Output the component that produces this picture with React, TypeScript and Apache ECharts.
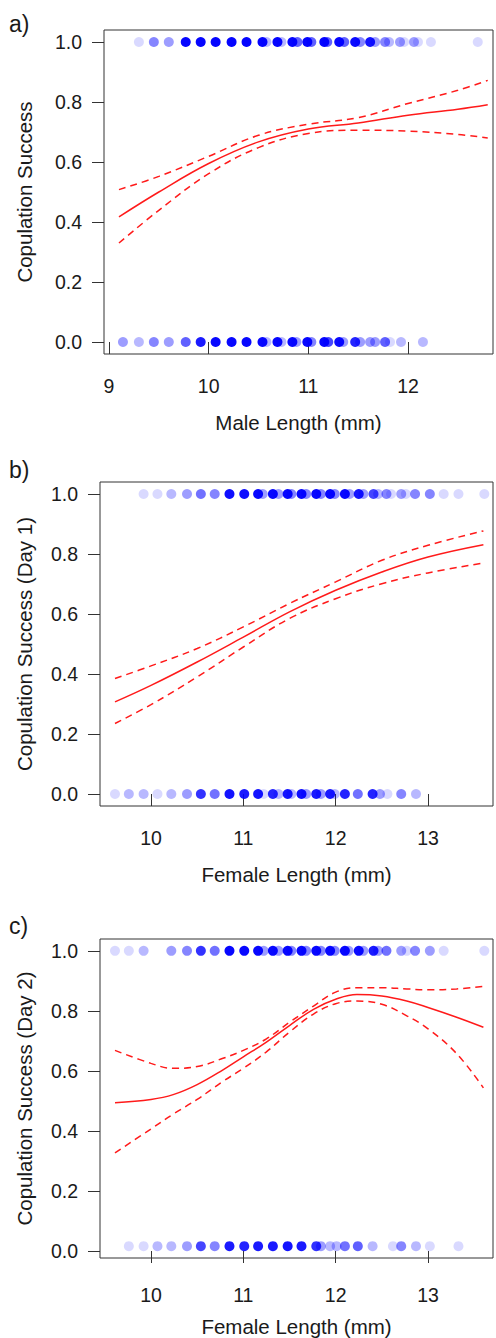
import React, { useEffect, useRef } from "react";
import * as echarts from "echarts";

const FONT = '"Liberation Sans", Arial, Helvetica, sans-serif';
const TEXT = "#1a1a1a";
const AXIS = "#333333";
const RED = "#ff1a1a";
const ALPHA = 0.15;

// ---- panel a: male length ----
const aCurveX = [9.1, 9.5, 10, 10.5, 11, 11.5, 12, 12.5, 12.8];
const aFit = [0.417, 0.5, 0.595, 0.667, 0.71, 0.73, 0.756, 0.776, 0.791];
const aUpper = [0.508, 0.552, 0.619, 0.689, 0.726, 0.748, 0.795, 0.839, 0.872];
const aLower = [0.33, 0.439, 0.561, 0.648, 0.695, 0.706, 0.703, 0.692, 0.68];
// [length, number of overlapping observations]
const aSuccess: [number, number][] = [
  [9.3, 1], [9.45, 4], [9.6, 3], [9.77, 24], [9.92, 24], [10.07, 26], [10.23, 26], [10.38, 26],
  [10.54, 26], [10.58, 2], [10.69, 26], [10.73, 2], [10.84, 24], [10.89, 6], [10.99, 24], [11.03, 6],
  [11.16, 24], [11.19, 6], [11.31, 24], [11.36, 6], [11.47, 20], [11.52, 4], [11.62, 16], [11.67, 3],
  [11.77, 4], [11.81, 2], [11.92, 3], [11.96, 1], [12.06, 3], [12.1, 1], [12.23, 1], [12.7, 1],
];
const aFail: [number, number][] = [
  [9.14, 3], [9.3, 2], [9.45, 4], [9.6, 3], [9.77, 6], [9.92, 14], [10.07, 22], [10.23, 22],
  [10.38, 22], [10.54, 22], [10.58, 2], [10.69, 22], [10.73, 2], [10.84, 22], [10.88, 3], [10.99, 22],
  [11.03, 4], [11.16, 22], [11.2, 8], [11.31, 20], [11.35, 3], [11.47, 12], [11.52, 3], [11.62, 3],
  [11.67, 3], [11.77, 6], [11.82, 1], [11.93, 2], [12.15, 2],
];

// ---- panel b: female length, day 1 ----
const bCurveX = [9.61, 10, 10.5, 11, 11.5, 12, 12.5, 13, 13.6];
const bFit = [0.307, 0.362, 0.44, 0.523, 0.607, 0.679, 0.74, 0.79, 0.831];
const bUpper = [0.385, 0.427, 0.485, 0.557, 0.635, 0.707, 0.779, 0.829, 0.877];
const bLower = [0.235, 0.298, 0.39, 0.49, 0.585, 0.651, 0.701, 0.737, 0.77];
const bSuccess: [number, number][] = [
  [9.92, 1], [10.07, 1], [10.22, 2], [10.39, 3], [10.54, 5], [10.69, 4], [10.85, 18], [11.01, 18],
  [11.16, 22], [11.21, 3], [11.32, 22], [11.38, 3], [11.48, 22], [11.52, 4], [11.63, 22], [11.68, 4],
  [11.79, 22], [11.84, 4], [11.94, 22], [11.99, 4], [12.1, 22], [12.15, 3], [12.25, 16], [12.3, 3],
  [12.41, 8], [12.46, 2], [12.55, 4], [12.6, 1], [12.71, 3], [12.76, 1], [12.86, 4], [13.02, 4],
  [13.17, 1], [13.33, 1], [13.61, 1],
];
const bFail: [number, number][] = [
  [9.61, 1], [9.76, 2], [9.92, 2], [10.07, 1], [10.22, 2], [10.39, 3], [10.54, 10], [10.69, 5],
  [10.85, 16], [11.01, 14], [11.16, 16], [11.22, 1], [11.32, 12], [11.38, 2], [11.48, 16], [11.52, 2],
  [11.63, 18], [11.68, 3], [11.79, 14], [11.84, 3], [11.94, 14], [11.99, 2], [12.1, 12], [12.24, 5],
  [12.4, 12], [12.48, 3], [12.56, 1], [12.71, 4], [12.87, 2],
];

// ---- panel c: female length, day 2 ----
const cCurveX = [9.61, 10, 10.24, 10.5, 10.78, 11, 11.25, 11.5, 11.76, 12, 12.23, 12.5, 12.77, 13, 13.31, 13.6];
const cFit = [0.486, 0.497, 0.513, 0.547, 0.597, 0.641, 0.691, 0.747, 0.802, 0.836, 0.852, 0.847, 0.83, 0.808, 0.775, 0.741];
const cUpper = [0.663, 0.619, 0.602, 0.608, 0.636, 0.663, 0.702, 0.758, 0.813, 0.86, 0.875, 0.875, 0.871, 0.868, 0.871, 0.88];
const cLower = [0.316, 0.397, 0.447, 0.497, 0.558, 0.602, 0.658, 0.725, 0.786, 0.821, 0.83, 0.819, 0.78, 0.736, 0.652, 0.536];
const cSuccess: [number, number][] = [
  [9.61, 1], [9.76, 1], [9.92, 2], [10.22, 3], [10.39, 4], [10.54, 10], [10.69, 5], [10.85, 22],
  [11.01, 22], [11.16, 22], [11.22, 3], [11.32, 22], [11.38, 3], [11.48, 22], [11.52, 4], [11.63, 22],
  [11.68, 4], [11.79, 22], [11.84, 4], [11.94, 22], [11.99, 4], [12.1, 22], [12.14, 3], [12.25, 20],
  [12.3, 3], [12.41, 14], [12.46, 3], [12.55, 5], [12.71, 3], [12.77, 1], [12.86, 4], [13.02, 3],
  [13.17, 1], [13.61, 1],
];
const cFail: [number, number][] = [
  [9.76, 1], [9.92, 1], [10.07, 2], [10.22, 2], [10.39, 3], [10.54, 8], [10.69, 4], [10.85, 14],
  [11.01, 12], [11.16, 14], [11.32, 14], [11.48, 16], [11.63, 14], [11.79, 10], [11.84, 3], [11.94, 2],
  [12.01, 2], [12.1, 5], [12.24, 6], [12.4, 2], [12.62, 1], [12.71, 4], [12.87, 2], [13.02, 1], [13.33, 1],
];

const yTicks = { min: 0, max: 1, interval: 0.2 };

const panels = [
  {
    tag: "a)", tagY: 24,
    box: { left: 104, top: 30, width: 389, height: 324 },
    data: { left: 109, top: 42, width: 299, height: 300 },
    xMin: 9, xMax: 12,
    xName: "Male Length (mm)", yName: "Copulation Success",
    curveX: aCurveX, fit: aFit, upper: aUpper, lower: aLower, ones: aSuccess, zeros: aFail,
  },
  {
    tag: "b)", tagY: 470,
    box: { left: 100, top: 482, width: 393, height: 324 },
    data: { left: 151, top: 494, width: 277, height: 300 },
    xMin: 10, xMax: 13,
    xName: "Female Length (mm)", yName: "Copulation Success (Day 1)",
    curveX: bCurveX, fit: bFit, upper: bUpper, lower: bLower, ones: bSuccess, zeros: bFail,
  },
  {
    tag: "c)", tagY: 926,
    box: { left: 100, top: 939, width: 393, height: 324 },
    data: { left: 151, top: 951, width: 277, height: 300 },
    xMin: 10, xMax: 13,
    xName: "Female Length (mm)", yName: "Copulation Success (Day 2)",
    curveX: cCurveX, fit: cFit, upper: cUpper, lower: cLower, ones: cSuccess, zeros: cFail,
  },
];

function pts(rows: [number, number][], y: number) {
  return rows.map(([x, n]) => ({
    value: [x, y],
    itemStyle: { opacity: 1 - Math.pow(1 - ALPHA, n) },
  }));
}
function line(xs: number[], ys: number[]) {
  return xs.map((x, i) => [x, ys[i]]);
}

function buildOption() {
  const grid: any[] = [];
  const xAxis: any[] = [];
  const yAxis: any[] = [];
  const series: any[] = [];
  const graphic: any[] = [];

  panels.forEach((p, i) => {
    const boxIdx = i * 2;
    const tickIdx = i * 2 + 1;
    const { box, data } = p;
    // full-frame extents derived from the tick layout
    const xPer = (p.xMax - p.xMin) / data.width;
    const xLo = p.xMin - (data.left - box.left) * xPer;
    const xHi = p.xMax + (box.left + box.width - data.left - data.width) * xPer;
    const yPer = (yTicks.max - yTicks.min) / data.height;
    const yHi = yTicks.max + (data.top - box.top) * yPer;
    const yLo = yTicks.min - (box.top + box.height - data.top - data.height) * yPer;

    grid.push({ ...box, show: true, borderColor: AXIS, borderWidth: 1, backgroundColor: "transparent", containLabel: false });
    grid.push({ ...data, show: false, containLabel: false });

    // frame axes: carry the data and the titles
    xAxis.push({
      gridIndex: boxIdx, type: "value", min: xLo, max: xHi,
      axisLine: { show: false }, axisTick: { show: false }, axisLabel: { show: false }, splitLine: { show: false },
      name: p.xName, nameLocation: "middle", nameGap: 58,
      nameTextStyle: { fontSize: 20.5, fontFamily: FONT, color: TEXT },
    });
    yAxis.push({
      gridIndex: boxIdx, type: "value", min: yLo, max: yHi,
      axisLine: { show: false }, axisTick: { show: false }, axisLabel: { show: false }, splitLine: { show: false },
      name: p.yName, nameLocation: "middle", nameGap: box.left - 35,
      nameTextStyle: { fontSize: 20.5, fontFamily: FONT, color: TEXT },
    });

    // tick axes
    xAxis.push({
      gridIndex: tickIdx, type: "value", min: p.xMin, max: p.xMax, interval: 1,
      offset: box.top + box.height - (data.top + data.height),
      axisLine: { show: false },
      axisTick: { show: true, inside: false, length: 12, lineStyle: { color: AXIS, width: 1 } },
      axisLabel: { fontSize: 19.5, fontFamily: FONT, color: TEXT, margin: 22 },
      splitLine: { show: false },
    });
    yAxis.push({
      gridIndex: tickIdx, type: "value", ...yTicks,
      offset: data.left - box.left,
      axisLine: { show: false },
      axisTick: { show: true, inside: false, length: 12, lineStyle: { color: AXIS, width: 1 } },
      axisLabel: { fontSize: 19.5, fontFamily: FONT, color: TEXT, margin: 22, formatter: (v: number) => v.toFixed(1) },
      splitLine: { show: false },
    });

    const common = { xAxisIndex: boxIdx, yAxisIndex: boxIdx, clip: false, silent: true };
    series.push({
      ...common, type: "scatter", symbol: "circle", symbolSize: 10,
      itemStyle: { color: "#0000ff" },
      data: [...pts(p.ones, 1), ...pts(p.zeros, 0)],
    });
    series.push({
      ...common, type: "line", showSymbol: false, smooth: 0.4,
      lineStyle: { color: RED, width: 1.5, type: "solid" },
      data: line(p.curveX, p.fit),
    });
    series.push({
      ...common, type: "line", showSymbol: false, smooth: 0.4,
      lineStyle: { color: RED, width: 1.5, type: [7, 5] },
      data: line(p.curveX, p.upper),
    });
    series.push({
      ...common, type: "line", showSymbol: false, smooth: 0.4,
      lineStyle: { color: RED, width: 1.5, type: [7, 5] },
      data: line(p.curveX, p.lower),
    });

    graphic.push({
      type: "text", x: 9, y: p.tagY,
      style: { text: p.tag, fontSize: 23, fontFamily: FONT, fill: TEXT, verticalAlign: "middle", align: "left" },
    });
  });

  return { animation: false, backgroundColor: "#ffffff", grid, xAxis, yAxis, series, graphic };
}

export default function App() {
  const ref = useRef<HTMLDivElement>(null);
  useEffect(() => {
    if (!ref.current) return;
    const chart = echarts.init(ref.current, undefined, { renderer: "svg" });
    chart.setOption(buildOption() as any);
    return () => chart.dispose();
  }, []);
  return (
    <div
      ref={ref}
      style={{ position: "absolute", left: 0, top: 0, width: 496, height: 1338, background: "#fff" }}
    />
  );
}
